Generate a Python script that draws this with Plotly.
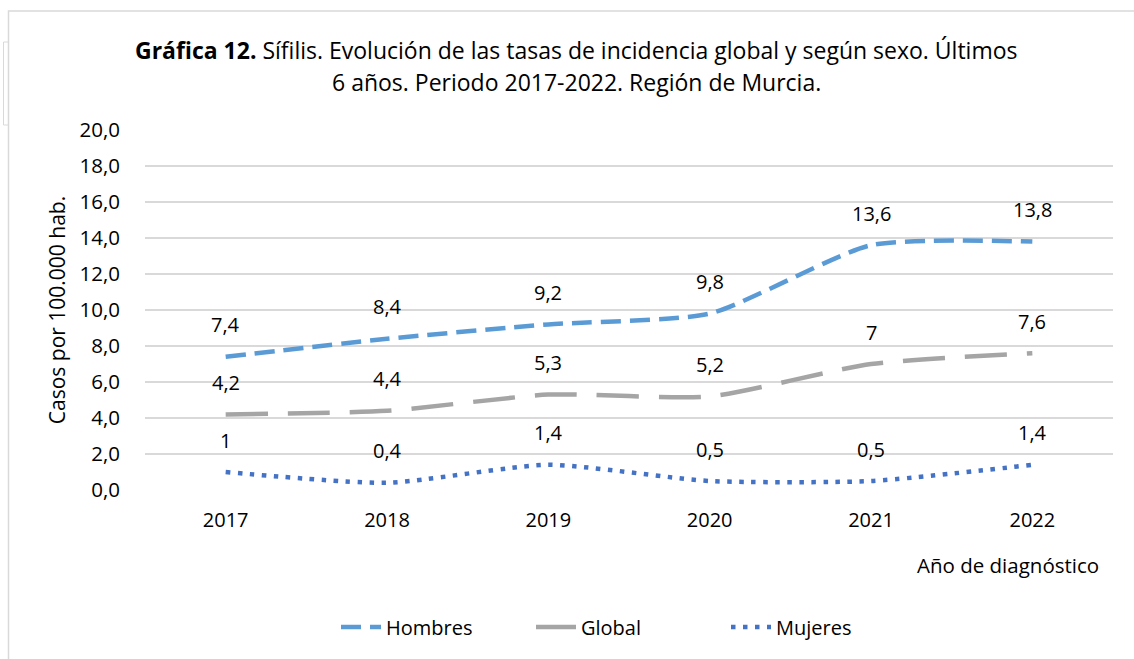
import plotly.graph_objects as go

years = ["2017", "2018", "2019", "2020", "2021", "2022"]
hombres = [7.4, 8.4, 9.2, 9.8, 13.6, 13.8]
global_ = [4.2, 4.4, 5.3, 5.2, 7.0, 7.6]
mujeres = [1.0, 0.4, 1.4, 0.5, 0.5, 1.4]
y_ticks = [0, 2, 4, 6, 8, 10, 12, 14, 16, 18, 20]

FONT = "Open Sans"
W, H = 1134, 659
L, R, T, B = 145, 21, 130, 169   # plot area in pixels


def px(x):
    return (x - L) / (W - L - R)


def py(y):
    return (H - B - y) / (H - T - B)


def fmt(v):
    return f"{v:g}".replace(".", ",")


series = [
    ("Hombres", hombres, "#5B9BD5", "20px,9px", 4.5),
    ("Global", global_, "#A5A5A5", "42px,20px", 4.5),
    ("Mujeres", mujeres, "#4472C4", "4.5px,7.5px", 4.5),
]

fig = go.Figure()
annotations = []
for name, vals, color, dash, w in series:
    fig.add_trace(go.Scatter(
        x=years, y=vals, mode="lines", name=name,
        line=dict(color=color, dash=dash, width=w, shape="spline", smoothing=0.6),
    ))
    for i, v in enumerate(vals):
        annotations.append(dict(
            x=i, y=v, xref="x", yref="y", text=fmt(v), showarrow=False,
            yanchor="middle", yshift=32,
            font=dict(family=FONT, size=20, color="#000000"),
        ))

# title (two lines)
annotations.append(dict(
    x=px(576), y=py(50), xref="paper", yref="paper", yanchor="middle",
    text="<b>Gráfica 12.</b> Sífilis. Evolución de las tasas de incidencia global y según sexo. Últimos",
    showarrow=False, font=dict(family=FONT, size=23, color="#000000"),
))
annotations.append(dict(
    x=px(576), y=py(82), xref="paper", yref="paper", yanchor="middle",
    text="6 años. Periodo 2017-2022. Región de Murcia.",
    showarrow=False, font=dict(family=FONT, size=23, color="#000000"),
))
# x axis title
annotations.append(dict(
    x=px(1101), y=py(565), xref="paper", yref="paper", xanchor="right", yanchor="middle",
    text="Año de diagnóstico", showarrow=False,
    font=dict(family=FONT, size=20.5, color="#000000"),
))

shapes = [
    # chart frame
    dict(type="rect", xref="paper", yref="paper",
         x0=px(8.5), x1=px(1140), y0=py(670), y1=py(11),
         line=dict(color="#D9D9D9", width=1.5), layer="below"),
    # small stray box at left edge
    dict(type="rect", xref="paper", yref="paper",
         x0=px(3.5), x1=px(8.5), y0=py(125), y1=py(42),
         line=dict(color="#D9D9D9", width=1), layer="below"),
]

fig.update_layout(
    width=W, height=H,
    margin=dict(l=L, r=R, t=T, b=B),
    paper_bgcolor="white", plot_bgcolor="white",
    font=dict(family=FONT, size=20, color="#000000"),
    showlegend=True,
    legend=dict(orientation="h", xref="container", yref="container",
                x=336 / W, xanchor="left", y=1 - 627 / H, yanchor="middle",
                font=dict(family=FONT, size=20), itemwidth=40, entrywidth=140),
    annotations=annotations,
    shapes=shapes,
    xaxis=dict(type="category", range=[-0.5, 5.5], showgrid=False, showline=False,
               ticks="", tickfont=dict(family=FONT, size=20), zeroline=False,
               ticklabelstandoff=16),
    yaxis=dict(range=[0, 20], tickvals=y_ticks,
               ticktext=[f"{v:.1f}".replace(".", ",") for v in y_ticks],
               showgrid=True, gridcolor="#D9D9D9", gridwidth=1.5, zeroline=False,
               showline=False, ticks="", ticklabelstandoff=24,
               title=dict(text="Casos por 100.000 hab.", font=dict(family=FONT, size=21),
                          standoff=8),
               tickfont=dict(family=FONT, size=20.5)),
)

fig.write_html("out.html", config={"displayModeBar": False},
               post_script="document.body.style.margin='0';")
